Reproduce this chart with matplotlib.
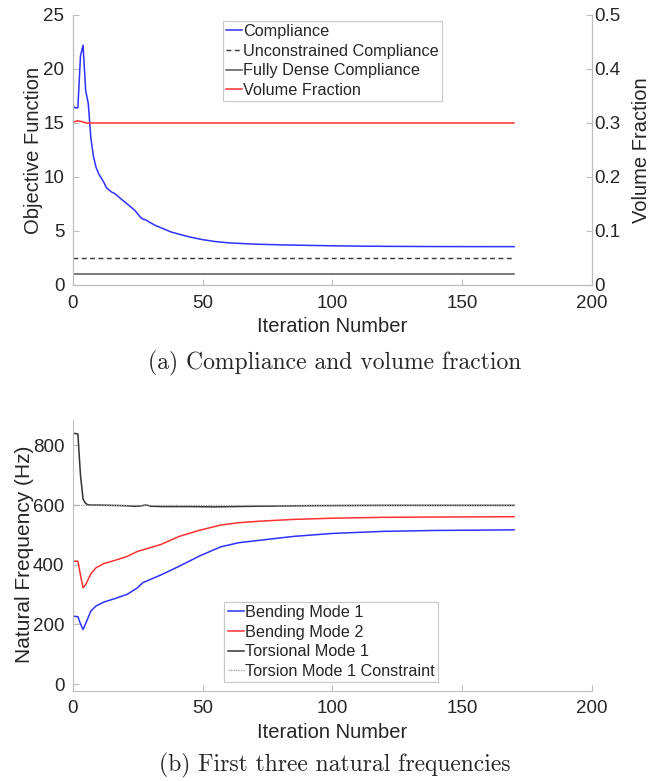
#!/usr/bin/env python3
"""Compliance / volume fraction and natural frequencies vs iteration."""
import matplotlib
matplotlib.use("Agg")
import matplotlib.pyplot as plt

GRID, TXT = "#bdbdbd", "#262626"
BLUE, RED, BLK = "#3030ff", "#ff3030", "#333333"
plt.rcParams.update({"font.family": ["Liberation Sans", "DejaVu Sans"],
                     "text.color": TXT, "axes.labelcolor": TXT,
                     "xtick.color": GRID, "ytick.color": GRID,
                     "xtick.labelcolor": TXT, "ytick.labelcolor": TXT,
                     "xtick.direction": "in", "ytick.direction": "in"})

# ---- (a) compliance + volume fraction ----
comp_it = [0, 1, 2, 3, 4, 5, 6, 7, 8, 9, 10, 11, 12, 13, 14, 15, 16, 18, 20, 22, 24,
           26, 27, 28, 30, 32, 35, 38, 41, 45, 50, 55, 60, 65, 70, 80, 90, 100, 110,
           120, 140, 160, 170]
comp = [16.6, 16.4, 16.4, 21.2, 22.2, 18.0, 16.8, 13.6, 11.9, 10.9, 10.3, 9.9, 9.5,
        9.0, 8.8, 8.6, 8.5, 8.1, 7.7, 7.3, 6.9, 6.3, 6.1, 6.05, 5.75, 5.5, 5.2, 4.9,
        4.7, 4.45, 4.2, 4.02, 3.9, 3.84, 3.78, 3.72, 3.67, 3.63, 3.6, 3.58, 3.56,
        3.55, 3.55]
span_it = [0, 170]
uncon = [2.53, 2.53]
dense = [0.99, 0.99]
vf_it = [0, 1, 2, 3, 4, 5, 6, 170]
vf = [0.301, 0.303, 0.304, 0.303, 0.302, 0.300, 0.300, 0.300]

# ---- (b) natural frequencies ----
b1_it = [0, 2, 3, 4, 5, 7, 9, 12, 16, 21, 25, 27, 34, 41, 49, 57, 64, 72, 85, 100,
         120, 140, 170]
bend1 = [228, 226, 202, 183, 203, 245, 262, 275, 286, 301, 323, 340, 366, 395, 430,
         460, 474, 482, 495, 505, 512, 515, 517]
b2_it = [0, 2, 3, 4, 5, 7, 9, 12, 16, 21, 25, 27, 34, 41, 49, 57, 64, 72, 85, 100,
         120, 140, 170]
bend2 = [412, 412, 365, 323, 333, 370, 390, 404, 414, 428, 445, 450, 468, 495, 516,
         533, 541, 546, 552, 556, 559, 560, 561]
t_it = [0, 1, 2, 3, 4, 5, 6, 7, 10, 20, 24, 26, 28, 29, 30, 35, 45, 55, 70, 90, 120,
        170]
tors = [840, 840, 838, 700, 620, 605, 601, 600, 600, 598, 596, 597, 600, 599, 596,
        595, 595, 594, 596, 598, 599, 599]
constraint = [600, 600]

fig = plt.figure(figsize=(6.62, 7.81), dpi=100)

def style(ax, right=False):
    for s in ["top"] + ([] if right else ["right"]):
        ax.spines[s].set_visible(False)
    for s in ax.spines.values():
        s.set_color(GRID); s.set_linewidth(0.8)
    ax.tick_params(labelsize=13.5, length=4, width=0.8)
    ax.tick_params(axis="y", pad=6)
    ax.tick_params(axis="x", pad=7)
    ax.set_xlim(0, 200); ax.set_xticks([0, 50, 100, 150, 200])
    ax.set_xlabel("Iteration Number", fontsize=14.5, labelpad=4)

def legend(ax, anchor):
    lg = ax.legend(loc="upper left", bbox_to_anchor=anchor, borderaxespad=0,
                   fontsize=11.7, handlelength=1.0, handletextpad=0.05,
                   borderpad=0.2, labelspacing=0.28, fancybox=False,
                   framealpha=1, edgecolor="#c8c8c8")
    lg.get_frame().set_linewidth(0.8)

ax = fig.add_axes([0.1098, 0.6351, 0.7844, 0.3457])
style(ax, right=True)
ax.plot(comp_it, comp, color=BLUE, lw=1.1, label="Compliance")
ax.plot(span_it, uncon, color=BLK, lw=1.0, ls=(0, (3.5, 2.5)), label="Unconstrained Compliance")
ax.plot(span_it, dense, color="#555555", lw=1.1, label="Fully Dense Compliance")
ax.plot([], [], color=RED, lw=1.1, label="Volume Fraction")
ax.set_ylim(0, 25); ax.set_yticks([0, 5, 10, 15, 20, 25])
ax.set_ylabel("Objective Function", fontsize=14.5)
ax.yaxis.set_label_coords(-0.058, 0.5)
ax2 = ax.twinx()
ax2.plot(vf_it, vf, color=RED, lw=1.1)
ax2.set_ylim(0, 0.5); ax2.set_yticks([0, 0.1, 0.2, 0.3, 0.4, 0.5])
ax2.set_yticklabels(["0", "0.1", "0.2", "0.3", "0.4", "0.5"])
for s in ax2.spines.values():
    s.set_color(GRID); s.set_linewidth(0.8)
ax2.spines["top"].set_visible(False)
ax2.tick_params(labelsize=13.5, length=4, width=0.8, pad=2)
ax2.set_ylabel("Volume Fraction", fontsize=14.5)
ax2.yaxis.set_label_coords(1.078, 0.5)
legend(ax, (0.289, 0.978))
fig.text(0.506, 0.535, "(a) Compliance and volume fraction", family="cmr10",
         fontsize=17, ha="center", va="center")

ax = fig.add_axes([0.1098, 0.1156, 0.7844, 0.3466])
style(ax)
ax.plot(b1_it, bend1, color=BLUE, lw=1.1, label="Bending Mode 1")
ax.plot(b2_it, bend2, color=RED, lw=1.1, label="Bending Mode 2")
ax.plot(t_it, tors, color=BLK, lw=1.1, label="Torsional Mode 1")
ax.plot(span_it, constraint, color="#999999", lw=0.9, ls=(0, (1, 1)),
        label="Torsion Mode 1 Constraint")
ax.set_ylim(-22, 885); ax.set_yticks([0, 200, 400, 600, 800])
ax.set_ylabel("Natural Frequency (Hz)", fontsize=15)
ax.yaxis.set_label_coords(-0.075, 0.505)
legend(ax, (0.292, 0.328))
fig.text(0.506, 0.020, "(b) First three natural frequencies", family="cmr10",
         fontsize=17, ha="center", va="center")

fig.savefig("out.png", dpi=100)
